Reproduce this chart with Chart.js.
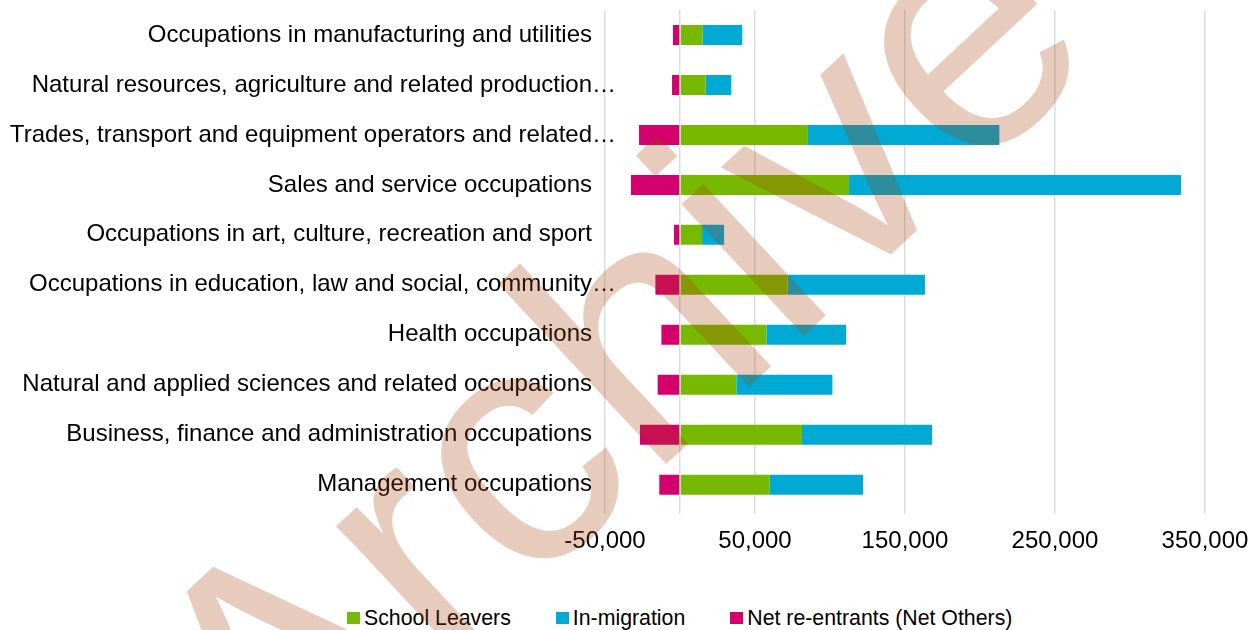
<!DOCTYPE html>
<html>
<head>
<meta charset="utf-8">
<script src="https://cdn.jsdelivr.net/npm/chart.js@4/dist/chart.umd.min.js"></script>
<style>
  html, body { margin: 0; padding: 0; background: #fff; }
  #wrap { position: relative; width: 1254px; height: 630px; overflow: hidden; font-family: "Liberation Sans", Arial, sans-serif; }
  #chartBox { position: absolute; left: 0; top: 0; width: 1254px; height: 580px; }
  #legend { position: absolute; left: 347px; top: 606px; display: flex; font-size: 21.3px; color: #000; line-height: 24px; }
  #legend .item { display: flex; align-items: center; margin-right: 45px; }
  #legend .sw { width: 13px; height: 12px; margin-right: 4px; }
  #mark { position: absolute; left: 0; top: 0; pointer-events: none; }
</style>
</head>
<body>
<div id="wrap">
  <div id="chartBox"><canvas id="chart"></canvas></div>
  <div id="legend"></div>
  <canvas id="mark" width="1254" height="630"></canvas>
</div>
<script>
/* Occupations — new job seekers by source, stacked horizontal bars */

const categories = [
  'Occupations in manufacturing and utilities',
  'Natural resources, agriculture and related production…',
  'Trades, transport and equipment operators and related…',
  'Sales and service occupations',
  'Occupations in art, culture, recreation and sport',
  'Occupations in education, law and social, community…',
  'Health occupations',
  'Natural and applied sciences and related occupations',
  'Business, finance and administration occupations',
  'Management occupations',
];

const schoolLeavers = [15100, 17100, 85300, 112700, 14700, 71800, 57600, 37600, 81300, 59800];
const inMigration   = [26400, 17100, 127600, 221300, 14700, 91500, 53100, 64000, 86700, 62200];
const netReentrants = [-4700, -5300, -27300, -32700, -4000, -16400, -12400, -14900, -26700, -13800];

const xTicks = [-50000, 0, 50000, 150000, 250000, 350000];

const seriesNames  = ['School Leavers', 'In-migration', 'Net re-entrants (Net Others)'];
const seriesColors = ['#76b900', '#00aad4', '#d4006e'];

const FONT = '"Liberation Sans", Arial, sans-serif';
const AXIS_SIZE = 24;

/* y labels: right-align the text without its trailing ellipsis, like the original */
const yLabelPlugin = {
  id: 'yLabels',
  afterDraw(chart) {
    const ctx = chart.ctx;
    const ys = chart.scales.y;
    const right = chart.chartArea.left - 13;
    ctx.save();
    ctx.font = AXIS_SIZE + 'px ' + FONT;
    ctx.fillStyle = '#000';
    ctx.textBaseline = 'middle';
    ctx.textAlign = 'left';
    categories.forEach((label, i) => {
      const base = label.replace(/…$/, '');
      const w = ctx.measureText(base).width;
      ctx.fillText(label, right - w, ys.getPixelForTick(i));
    });
    ctx.restore();
  },
};

new Chart(document.getElementById('chart'), {
  type: 'bar',
  data: {
    labels: categories,
    datasets: [
      { label: seriesNames[0], data: schoolLeavers, backgroundColor: seriesColors[0] },
      { label: seriesNames[1], data: inMigration,   backgroundColor: seriesColors[1] },
      { label: seriesNames[2], data: netReentrants, backgroundColor: seriesColors[2] },
    ],
  },
  options: {
    indexAxis: 'y',
    responsive: true,
    maintainAspectRatio: false,
    animation: false,
    layout: { padding: { top: 10, right: 49, bottom: 11.5, left: 0 } },
    datasets: { bar: { categoryPercentage: 0.8, barPercentage: 0.5 } },
    plugins: { legend: { display: false }, tooltip: { enabled: false } },
    scales: {
      x: {
        stacked: true,
        min: -50000,
        max: 350000,
        afterBuildTicks: s => { s.ticks = xTicks.map(v => ({ value: v })); },
        afterFit: s => { s.paddingRight = 0; s.paddingLeft = 0; },
        ticks: {
          autoSkip: false,
          maxRotation: 0,
          padding: 13,
          color: '#000',
          font: { size: AXIS_SIZE, family: FONT },
          callback: v => (v === 0 ? '' : v.toLocaleString('en-US')),
        },
        grid: { color: '#d9dde2', lineWidth: 1.5, tickLength: 4 },
        border: { display: false },
      },
      y: {
        stacked: true,
        afterFit: s => { s.width = 605; },
        ticks: { display: false },
        grid: { display: false },
        border: { display: false },
      },
    },
  },
  plugins: [yLabelPlugin],
});

/* legend */
const legendEl = document.getElementById('legend');
seriesNames.forEach((name, i) => {
  const item = document.createElement('div');
  item.className = 'item';
  item.innerHTML = '<span class="sw" style="background:' + seriesColors[i] + '"></span><span>' + name + '</span>';
  legendEl.appendChild(item);
});

/* watermark */
const mctx = document.getElementById('mark').getContext('2d');
mctx.save();
mctx.translate(276, 828);
mctx.rotate(-43 * Math.PI / 180);
mctx.font = '340px ' + FONT;
mctx.fillStyle = 'rgba(168,64,11,0.27)';
mctx.textBaseline = 'alphabetic';
mctx.fillText('Archive', 0, 0);
mctx.restore();
</script>
</body>
</html>
